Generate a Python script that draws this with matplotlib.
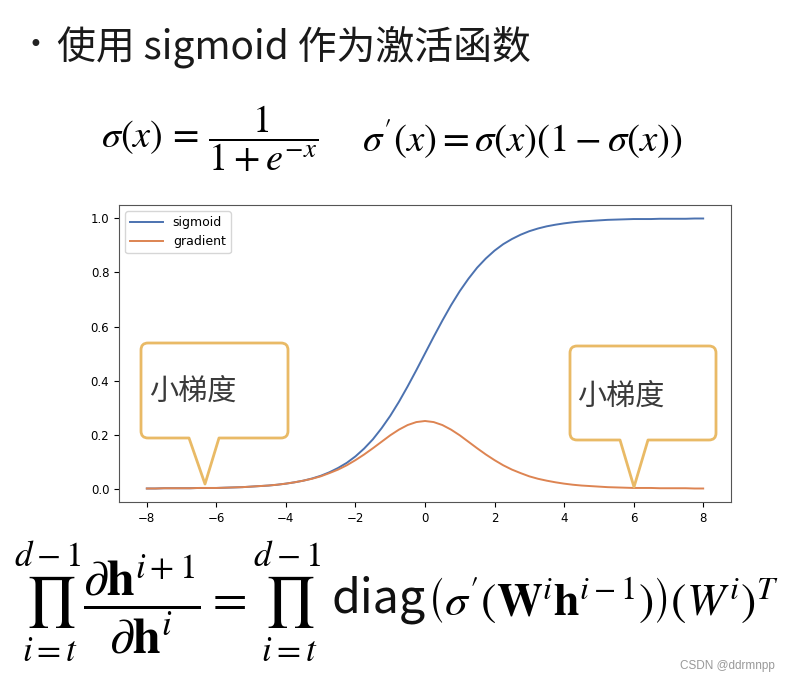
import matplotlib
matplotlib.use('Agg')
import matplotlib.pyplot as plt
from matplotlib.path import Path
from matplotlib.patches import PathPatch

plt.rcParams['mathtext.fontset'] = 'stix'

# values (step 0.25)
x = [-8.0, -7.75, -7.5, -7.25, -7.0, -6.75, -6.5, -6.25, -6.0, -5.75, -5.5, -5.25, -5.0, -4.75, -4.5, -4.25,
     -4.0, -3.75, -3.5, -3.25, -3.0, -2.75, -2.5, -2.25, -2.0, -1.75, -1.5, -1.25, -1.0, -0.75, -0.5, -0.25,
     0.0, 0.25, 0.5, 0.75, 1.0, 1.25, 1.5, 1.75, 2.0, 2.25, 2.5, 2.75, 3.0, 3.25, 3.5, 3.75,
     4.0, 4.25, 4.5, 4.75, 5.0, 5.25, 5.5, 5.75, 6.0, 6.25, 6.5, 6.75, 7.0, 7.25, 7.5, 7.75, 8.0]
sigmoid = [0.000, 0.000, 0.001, 0.001, 0.001, 0.001, 0.002, 0.002, 0.002, 0.003, 0.004, 0.005, 0.007, 0.009, 0.011, 0.014,
           0.018, 0.023, 0.029, 0.037, 0.047, 0.060, 0.076, 0.095, 0.119, 0.148, 0.182, 0.223, 0.269, 0.321, 0.378, 0.438,
           0.500, 0.562, 0.622, 0.679, 0.731, 0.777, 0.818, 0.852, 0.881, 0.905, 0.924, 0.940, 0.953, 0.963, 0.971, 0.977,
           0.982, 0.986, 0.989, 0.991, 0.993, 0.995, 0.996, 0.997, 0.998, 0.998, 0.998, 0.999, 0.999, 0.999, 0.999, 1.000, 1.000]
gradient = [0.000, 0.000, 0.001, 0.001, 0.001, 0.001, 0.002, 0.002, 0.002, 0.003, 0.004, 0.005, 0.007, 0.009, 0.011, 0.014,
            0.018, 0.023, 0.029, 0.036, 0.045, 0.057, 0.070, 0.086, 0.105, 0.126, 0.149, 0.173, 0.197, 0.218, 0.235, 0.246,
            0.250, 0.246, 0.235, 0.218, 0.197, 0.173, 0.149, 0.126, 0.105, 0.086, 0.070, 0.057, 0.045, 0.036, 0.029, 0.023,
            0.018, 0.014, 0.011, 0.009, 0.007, 0.005, 0.004, 0.003, 0.002, 0.002, 0.002, 0.001, 0.001, 0.001, 0.001, 0.000, 0.000]
series_names = ['sigmoid', 'gradient']
xticks = [-8, -6, -4, -2, 0, 2, 4, 6, 8]
yticks = [0.0, 0.2, 0.4, 0.6, 0.8, 1.0]

W, H = 791, 682
fig = plt.figure(figsize=(W / 100, H / 100), dpi=100)
fig.patch.set_facecolor('white')


def px(xp, yp):
    # pixel position (from top left) -> figure fraction
    return xp / W, 1 - yp / H


cjk = ['Noto Sans CJK SC', 'DejaVu Sans']

# heading
fig.text(*px(35, 45), '•', fontsize=17, family='DejaVu Sans', ha='center', va='center', color='#222222')
fig.text(*px(57, 47), '使用 sigmoid 作为激活函数', fontsize=28, family=cjk, ha='left', va='center', color='#1a1a1a')

# formulas
fig.text(*px(101, 139), r'$\sigma(x)\,=\,\dfrac{1}{1+e^{-x}}$', fontsize=27.5, ha='left', va='center')
fig.text(*px(362, 139), r"$\sigma'(x)=\sigma(x)(1-\sigma(x))$", fontsize=28, ha='left', va='center')

fig.text(*px(14, 602),
         r'$\prod_{i=t}^{d-1}\dfrac{\partial\mathbf{h}^{i+1}}{\partial\mathbf{h}^{i}}=\prod_{i=t}^{d-1}$',
         fontsize=36, ha='left', va='center')
fig.text(*px(331, 600), 'diag', fontsize=33.5, family=cjk, ha='left', va='center', color='#111111')
fig.text(*px(427, 600),
         r'$\left(\sigma^{\prime}(\mathbf{W}^{i}\mathbf{h}^{i-1})\right)(W^{i})^{T}$',
         fontsize=33, ha='left', va='center')

# chart
ax = fig.add_axes([119 / W, 1 - 502 / H, 612 / W, 297 / H])
ax.plot(x, sigmoid, color='#4C72B0', lw=1.4, label=series_names[0])
ax.plot(x, gradient, color='#DD8452', lw=1.4, label=series_names[1])
ax.set_xticks(xticks)
ax.set_yticks(yticks)
ax.tick_params(labelsize=8.5)
for s in ax.spines.values():
    s.set_color('#555555')
ax.legend(loc='upper left', fontsize=9, handlelength=2.6)


def callout(x0, y0, x1, y1, b0, b1, tx, ty, r=7):
    pts = [px(x0 + r, y0), px(x1 - r, y0), px(x1, y0), px(x1, y0 + r),
           px(x1, y1 - r), px(x1, y1), px(x1 - r, y1),
           px(b1, y1), px(tx, ty), px(b0, y1),
           px(x0 + r, y1), px(x0, y1), px(x0, y1 - r),
           px(x0, y0 + r), px(x0, y0), px(x0 + r, y0), px(x0 + r, y0)]
    codes = [Path.MOVETO, Path.LINETO, Path.CURVE3, Path.CURVE3,
             Path.LINETO, Path.CURVE3, Path.CURVE3,
             Path.LINETO, Path.LINETO, Path.LINETO,
             Path.LINETO, Path.CURVE3, Path.CURVE3,
             Path.LINETO, Path.CURVE3, Path.CURVE3, Path.CLOSEPOLY]
    p = PathPatch(Path(pts, codes), transform=fig.transFigure, facecolor='white',
                  edgecolor='#E9BA66', lw=2.0, zorder=5, joinstyle='round')
    fig.add_artist(p)


callout(141, 343, 288, 438, 189, 219, 205, 484)
callout(570, 346, 716, 440, 620, 648, 634, 487)
fig.text(*px(149, 392), '小梯度', fontsize=21, family=cjk, ha='left', va='center', color='#3a3a3a', zorder=6)
fig.text(*px(577, 397), '小梯度', fontsize=21, family=cjk, ha='left', va='center', color='#3a3a3a', zorder=6)

fig.text(*px(775, 666), 'CSDN @ddrmnpp', fontsize=8.5, family='Liberation Sans', ha='right', va='center', color='#999999')

fig.savefig('out.png', dpi=100, facecolor='white')
